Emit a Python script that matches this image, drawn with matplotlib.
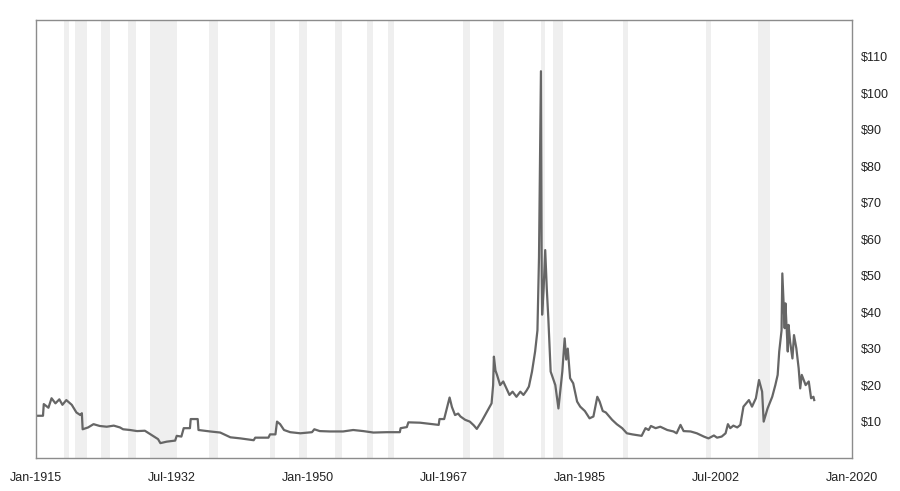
import matplotlib
matplotlib.use("Agg")
import matplotlib.pyplot as plt

# ---------- style ----------
plt.rcParams.update({
    "font.family": ["Liberation Sans", "DejaVu Sans"],
    "font.size": 9,
})

# ---------- data (inflation adjusted silver, $/oz) ----------
years = [
    1915.0, 1915.9, 1916.0, 1916.6, 1917.0, 1917.5, 1918.0, 1918.4, 1918.9, 1919.6,
    1920.2, 1920.7, 1920.9, 1921.0, 1921.7, 1922.4, 1923.2, 1924.1, 1925.0, 1925.8,
    1926.2, 1927.1, 1928.0, 1929.0, 1929.9, 1930.7, 1931.0, 1931.8, 1932.9, 1933.1,
    1933.7, 1934.0, 1934.8, 1934.9, 1935.8, 1935.9, 1937.4, 1938.7, 1940.0, 1941.3,
    1943.0, 1943.2, 1944.9, 1945.1, 1945.8, 1946.0, 1946.4, 1946.9, 1947.7, 1949.0,
    1950.5, 1950.8, 1951.5, 1952.8, 1954.5, 1955.8, 1957.1, 1958.4, 1960.1, 1961.8,
    1961.9, 1962.7, 1962.9, 1964.4, 1966.8, 1966.9, 1967.5, 1968.2, 1968.5, 1968.9,
    1969.3, 1969.6, 1970.2, 1970.8, 1971.3, 1971.7, 1972.3, 1973.0, 1973.6, 1973.8,
    1973.9, 1974.1, 1974.3, 1974.7, 1975.1, 1975.6, 1975.9, 1976.3, 1976.8, 1977.3,
    1977.7, 1978.1, 1978.4, 1978.8, 1979.2, 1979.5, 1979.7, 1979.85,
    1979.95, 1980.05, 1980.1, 1980.3, 1980.5, 1980.7, 1980.9, 1981.2, 1981.8, 1982.2,
    1982.7, 1983.0, 1983.2, 1983.4, 1983.7, 1984.1, 1984.6, 1985.0, 1985.6, 1986.2,
    1986.7, 1987.2, 1987.5, 1987.9, 1988.3, 1989.1, 1989.7, 1990.4, 1991.0, 1991.7,
    1992.3, 1992.9, 1993.4, 1993.8, 1994.1, 1994.7, 1995.3, 1996.2, 1997.0, 1997.4,
    1997.9, 1998.3, 1999.2, 2000.0, 2000.9, 2001.5, 2002.2, 2002.6, 2003.2, 2003.7,
    2004.0, 2004.3, 2004.7, 2005.2, 2005.6, 2006.0, 2006.7, 2007.1, 2007.6,
    2008.0, 2008.4, 2008.6, 2009.1, 2009.7, 2010.1, 2010.4, 2010.6, 2010.9, 2011.0,
    2011.3, 2011.4, 2011.7, 2011.8, 2012.0, 2012.3, 2012.5, 2012.8, 2013.1, 2013.3,
    2013.5, 2014.0, 2014.4, 2014.7, 2015.0, 2015.1,
]
prices = [
    11.6, 11.6, 14.8, 13.8, 16.4, 15.0, 16.1, 14.6, 15.9, 14.6,
    12.5, 11.8, 12.3, 7.9, 8.4, 9.3, 8.8, 8.6, 8.9, 8.4,
    7.9, 7.7, 7.4, 7.5, 6.3, 5.2, 4.1, 4.5, 4.8, 6.1,
    5.9, 8.2, 8.2, 10.7, 10.7, 7.7, 7.3, 7.0, 5.7, 5.4,
    4.9, 5.6, 5.6, 6.5, 6.5, 10.0, 9.3, 7.7, 7.1, 6.8,
    7.1, 7.9, 7.4, 7.3, 7.3, 7.7, 7.4, 7.0, 7.1, 7.1,
    8.2, 8.5, 9.8, 9.7, 9.1, 10.7, 10.7, 16.6, 14.0, 11.8,
    12.2, 11.4, 10.5, 10.0, 9.0, 8.0, 10.0, 12.7, 15.0, 20.0,
    27.8, 24.0, 22.8, 20.0, 21.0, 18.7, 17.3, 18.2, 16.8, 18.2,
    17.3, 18.5, 19.6, 23.7, 29.2, 35.0, 55.0, 85.0,
    106.0, 50.0, 39.3, 46.5, 57.0, 46.5, 38.3, 23.7, 20.0, 13.6,
    23.7, 32.8, 27.0, 30.0, 21.9, 20.5, 15.5, 14.1, 12.9, 10.9,
    11.4, 16.8, 15.5, 12.9, 12.5, 10.5, 9.3, 8.2, 6.8, 6.5,
    6.3, 6.1, 8.2, 7.7, 8.8, 8.2, 8.6, 7.7, 7.3, 6.8,
    9.1, 7.4, 7.3, 6.8, 5.9, 5.4, 6.2, 5.6, 5.9, 6.8,
    9.3, 8.2, 8.9, 8.4, 9.1, 14.1, 15.9, 14.1, 16.4,
    21.4, 18.2, 10.0, 13.6, 16.8, 20.0, 22.8, 29.2, 35.0, 50.6,
    35.6, 42.4, 29.2, 36.5, 31.9, 27.3, 33.7, 30.1, 24.6, 19.1,
    22.8, 20.0, 21.0, 16.4, 16.8, 15.9,
]

# US recessions (start, end) as decimal years
rec_start = [1918.6, 1920.0, 1923.4, 1926.8, 1929.6, 1937.3, 1945.1, 1948.8,
             1953.5, 1957.6, 1960.3, 1969.9, 1973.8, 1980.0, 1981.5, 1990.5,
             2001.2, 2007.9]
rec_end = [1919.2, 1921.5, 1924.5, 1927.8, 1933.2, 1938.4, 1945.8, 1949.8,
           1954.4, 1958.3, 1961.1, 1970.8, 1975.2, 1980.5, 1982.8, 1991.2,
           2001.8, 2009.4]

xtick_pos = [1915, 1932.5, 1950, 1967.5, 1985, 2002.5, 2020]
xtick_lab = ["Jan-1915", "Jul-1932", "Jan-1950", "Jul-1967", "Jan-1985", "Jul-2002", "Jan-2020"]
ytick_pos = list(range(10, 120, 10))

# ---------- plot ----------
fig = plt.figure(figsize=(9, 4.91), dpi=100)
ax = fig.add_axes([0.04, 0.067, 0.907, 0.892])

for s, e in zip(rec_start, rec_end):
    ax.axvspan(s, e, color="#efefef", lw=0, zorder=0)

ax.plot(years, prices, color="#666666", lw=1.6, zorder=2)

ax.set_xlim(1915, 2020)
ax.set_ylim(0, 120)

ax.set_xticks(xtick_pos)
ax.set_xticklabels(xtick_lab)
ax.set_yticks(ytick_pos)
ax.set_yticklabels(["$%d" % v for v in ytick_pos])
ax.yaxis.tick_right()
ax.tick_params(axis="both", length=0, colors="#222222", labelsize=9)
ax.tick_params(axis="y", pad=6)
ax.tick_params(axis="x", pad=10)

for sp in ax.spines.values():
    sp.set_color("#8c8c8c")
    sp.set_linewidth(1.0)

fig.savefig("out.png", dpi=100)
